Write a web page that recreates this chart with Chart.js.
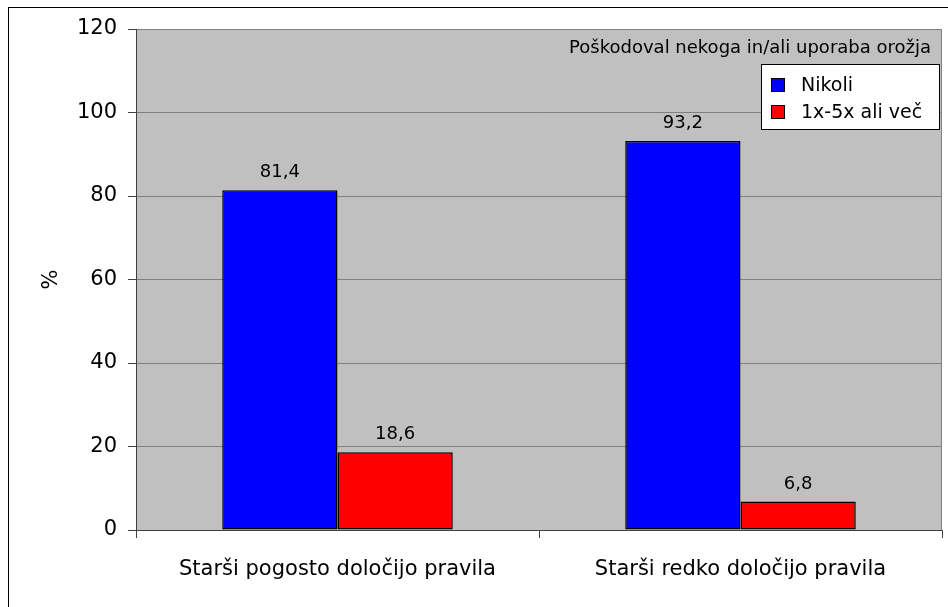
<!DOCTYPE html>
<html>
<head>
<meta charset="utf-8">
<script src="https://cdn.jsdelivr.net/npm/chart.js@4.4.1/dist/chart.umd.min.js"></script>
<style>
html,body{margin:0;padding:0;background:#fff;}
#wrap{width:948px;height:607px;position:relative;}
</style>
</head>
<body>
<div id="wrap"><canvas id="c" width="948" height="607"></canvas></div>
<script>
const categories = ["Starši pogosto določijo pravila", "Starši redko določijo pravila"];
const seriesNames = ["Nikoli", "1x-5x ali več"];
const nikoli = [81.4, 93.2];
const vec = [18.6, 6.8];
const yTicks = [0, 20, 40, 60, 80, 100, 120];
const legendTitle = "Poškodoval nekoga in/ali uporaba orožja";
const yTitle = "%";

const FONT = "'DejaVu Sans', Verdana, sans-serif";

const decor = {
  id: 'decor',
  beforeDraw(chart) {
    const ctx = chart.ctx, a = chart.chartArea;
    ctx.save();
    ctx.fillStyle = '#fff';
    ctx.fillRect(0, 0, chart.width, chart.height);
    ctx.strokeStyle = '#000';
    ctx.lineWidth = 1;
    ctx.strokeRect(8.5, 7.5, 1000, 1000);
    ctx.fillStyle = '#C0C0C0';
    ctx.fillRect(a.left, a.top, a.right - a.left, a.bottom - a.top);
    ctx.restore();
  },
  beforeDatasetsDraw(chart) {
    const ctx = chart.ctx, a = chart.chartArea;
    ctx.save();
    ctx.strokeStyle = '#808080';
    ctx.lineWidth = 1;
    ctx.beginPath();
    ctx.moveTo(Math.round(a.right) - 0.5, a.top);
    ctx.lineTo(Math.round(a.right) - 0.5, a.bottom);
    ctx.stroke();
    ctx.restore();
  },
  afterDatasetsDraw(chart) {
    const ctx = chart.ctx;
    ctx.save();
    ctx.font = "18px " + FONT;
    ctx.fillStyle = '#000';
    ctx.textAlign = 'center';
    ctx.textBaseline = 'alphabetic';
    chart.data.datasets.forEach((ds, di) => {
      const meta = chart.getDatasetMeta(di);
      meta.data.forEach((el, i) => {
        const txt = ds.data[i].toFixed(1).replace('.', ',');
        ctx.fillText(txt, el.x, el.y - 13);
      });
    });
    ctx.restore();
  },
  afterDraw(chart) {
    const ctx = chart.ctx, a = chart.chartArea;
    ctx.save();
    ctx.fillStyle = '#000';
    ctx.font = "21px " + FONT;
    ctx.translate(52, (a.top + a.bottom) / 2);
    ctx.rotate(-Math.PI / 2);
    ctx.textAlign = 'center';
    ctx.textBaseline = 'middle';
    ctx.fillText(yTitle, 0, 0);
    ctx.restore();

    ctx.save();
    ctx.fillStyle = '#000';
    ctx.font = "18px " + FONT;
    ctx.textAlign = 'right';
    ctx.textBaseline = 'middle';
    ctx.fillText(legendTitle, 931, 48);
    const bx = 761.5, by = 64.5, bw = 178, bh = 65;
    ctx.fillStyle = '#fff';
    ctx.fillRect(bx, by, bw, bh);
    ctx.strokeStyle = '#000';
    ctx.lineWidth = 1;
    ctx.strokeRect(bx, by, bw, bh);
    const rows = [85, 112];
    ctx.font = "19px " + FONT;
    ctx.textAlign = 'left';
    chart.data.datasets.forEach((ds, i) => {
      const cy = rows[i];
      ctx.fillStyle = ds.backgroundColor;
      ctx.fillRect(771.5, cy - 6.5, 13, 13);
      ctx.strokeStyle = '#000';
      ctx.strokeRect(771.5, cy - 6.5, 13, 13);
      ctx.fillStyle = '#000';
      ctx.fillText(ds.label, 801, cy + 1);
    });
    ctx.restore();
  }
};

new Chart(document.getElementById('c'), {
  type: 'bar',
  data: {
    labels: categories,
    datasets: [
      { label: seriesNames[0], data: nikoli, backgroundColor: '#0000FF', borderColor: '#000000', borderWidth: 1.5, borderSkipped: false },
      { label: seriesNames[1], data: vec, backgroundColor: '#FF0000', borderColor: '#000000', borderWidth: 1.5, borderSkipped: false }
    ]
  },
  options: {
    responsive: false,
    animation: false,
    devicePixelRatio: 1,
    layout: { padding: { left: 0, top: 29, right: 6, bottom: 0 } },
    datasets: { bar: { barPercentage: 1.0, categoryPercentage: 0.572 } },
    plugins: { legend: { display: false }, tooltip: { enabled: false } },
    scales: {
      x: {
        offset: true,
        grid: { display: true, drawOnChartArea: false, drawTicks: true, tickLength: 8, tickColor: '#404040', offset: true },
        border: { display: true, color: '#404040', width: 1 },
        ticks: { color: '#000', font: { family: FONT, size: 21 }, padding: 19, maxRotation: 0 },
        afterFit(s) { s.height = 77; }
      },
      y: {
        min: 0, max: 120,
        afterBuildTicks(s) { s.ticks = yTicks.map(v => ({ value: v })); },
        grid: { color: '#808080', lineWidth: 1, drawTicks: true, tickLength: 8, tickColor: '#404040' },
        border: { display: true, color: '#404040', width: 1 },
        ticks: { color: '#000', font: { family: FONT, size: 21 }, padding: 11 },
        afterFit(s) { s.width = 136; }
      }
    }
  },
  plugins: [decor]
});
</script>
</body>
</html>
